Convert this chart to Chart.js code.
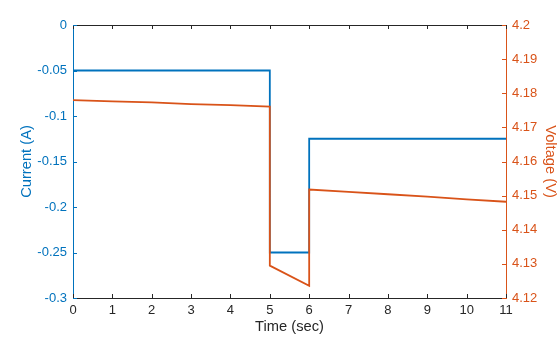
<!DOCTYPE html>
<html>
<head>
<meta charset="utf-8">
<title>Current and voltage</title>
<script src="https://cdn.jsdelivr.net/npm/chart.js@4"></script>
<style>
  html, body { margin: 0; padding: 0; background: #fff; }
  #wrap { width: 560px; height: 337px; }
</style>
</head>
<body>
<div id="wrap"><canvas id="chart" width="560" height="337"></canvas></div>
<script>
// time (sec) and measured values; repeated times give the vertical steps
const currentTime = [0, 5, 5, 6, 6, 11];
const currentAmps = [-0.05, -0.05, -0.25, -0.25, -0.125, -0.125];

const voltageTime = [0, 1, 2, 3, 4, 5, 5, 6, 6, 7, 8, 9, 10, 11];
const voltageVolts = [4.1780, 4.1776, 4.1773, 4.1768, 4.1765, 4.1761, 4.1295, 4.1236,
                      4.1518, 4.1511, 4.1504, 4.1497, 4.1489, 4.1482];

const timeTicks = [0, 1, 2, 3, 4, 5, 6, 7, 8, 9, 10, 11];

const BLUE = '#0072BD';
const ORANGE = '#D95319';
const DARK = '#262626';
const FONT = { family: 'Liberation Sans, Arial, sans-serif', size: 13 };
const TITLE_FONT = { family: 'Liberation Sans, Arial, sans-serif', size: 14.7 };

const toPoints = (xs, ys) => xs.map((x, i) => ({ x: x, y: ys[i] }));
const trimNum = v => String(+v.toFixed(3));

// top box line plus the inward tick marks on all four sides
const boxTicks = {
  id: 'boxTicks',
  afterDraw(chart) {
    const { ctx, chartArea: a, scales } = chart;
    const len = 4;
    ctx.save();
    ctx.lineWidth = 1;
    ctx.strokeStyle = DARK;
    ctx.beginPath();
    ctx.moveTo(a.left, a.top + 0.5);
    ctx.lineTo(a.right, a.top + 0.5);
    scales.x.ticks.forEach(t => {
      const px = Math.round(scales.x.getPixelForValue(t.value)) + 0.5;
      ctx.moveTo(px, a.bottom);
      ctx.lineTo(px, a.bottom - len);
      ctx.moveTo(px, a.top);
      ctx.lineTo(px, a.top + len);
    });
    ctx.stroke();

    ctx.strokeStyle = BLUE;
    ctx.beginPath();
    scales.y.ticks.forEach(t => {
      const py = Math.round(scales.y.getPixelForValue(t.value)) + 0.5;
      ctx.moveTo(a.left, py);
      ctx.lineTo(a.left + len, py);
    });
    ctx.stroke();

    ctx.strokeStyle = ORANGE;
    ctx.beginPath();
    scales.y1.ticks.forEach(t => {
      const py = Math.round(scales.y1.getPixelForValue(t.value)) + 0.5;
      ctx.moveTo(a.right, py);
      ctx.lineTo(a.right - len, py);
    });
    ctx.stroke();
    ctx.restore();
  }
};

new Chart(document.getElementById('chart'), {
  type: 'line',
  data: {
    datasets: [
      {
        label: 'Voltage (V)',
        data: toPoints(voltageTime, voltageVolts),
        yAxisID: 'y1',
        borderColor: ORANGE,
        borderWidth: 1.8,
        pointRadius: 0,
        tension: 0,
        order: 1
      },
      {
        label: 'Current (A)',
        data: toPoints(currentTime, currentAmps),
        yAxisID: 'y',
        borderColor: BLUE,
        borderWidth: 1.8,
        pointRadius: 0,
        tension: 0,
        order: 2
      }
    ]
  },
  options: {
    responsive: false,
    animation: false,
    devicePixelRatio: 1,
    layout: { padding: { top: 25, left: 0, right: 0, bottom: 0 } },
    plugins: { legend: { display: false }, tooltip: { enabled: false } },
    scales: {
      x: {
        type: 'linear',
        min: 0,
        max: 11,
        afterBuildTicks: s => { s.ticks = timeTicks.map(v => ({ value: v })); },
        afterFit: s => { s.height = 39; },
        grid: { display: false, drawTicks: false },
        border: { display: true, color: DARK, width: 1 },
        ticks: { color: DARK, font: FONT, padding: 5, maxRotation: 0, callback: v => trimNum(v) },
        title: { display: true, text: 'Time (sec)', color: DARK, font: TITLE_FONT, padding: 1 }
      },
      y: {
        position: 'left',
        min: -0.3,
        max: 0,
        afterFit: s => { s.width = 73; },
        grid: { display: false, drawTicks: false },
        border: { display: true, color: BLUE, width: 1 },
        ticks: { stepSize: 0.05, color: BLUE, font: FONT, padding: 6, callback: v => trimNum(v) },
        title: { display: true, text: 'Current (A)', color: BLUE, font: TITLE_FONT, padding: 18 }
      },
      y1: {
        position: 'right',
        min: 4.12,
        max: 4.2,
        afterFit: s => { s.width = 54; },
        grid: { display: false, drawTicks: false },
        border: { display: true, color: ORANGE, width: 1 },
        ticks: { stepSize: 0.01, color: ORANGE, font: FONT, padding: 6, callback: v => trimNum(v) },
        title: { display: true, text: 'Voltage (V)', color: ORANGE, font: TITLE_FONT, padding: 1.5 }
      }
    }
  },
  plugins: [boxTicks]
});
</script>
</body>
</html>
